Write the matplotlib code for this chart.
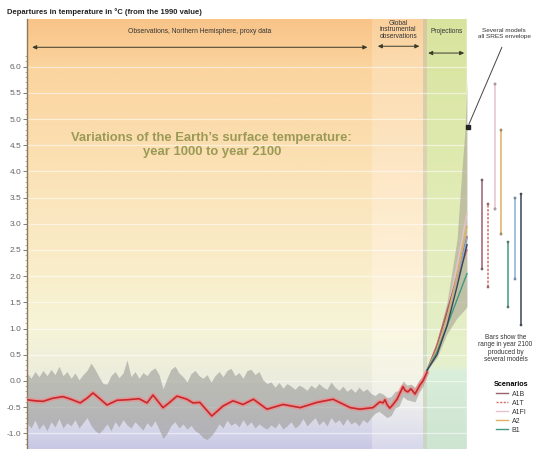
import numpy as np
import matplotlib
matplotlib.use('Agg')
import matplotlib.pyplot as plt
from matplotlib.colors import LinearSegmentedColormap
from matplotlib.lines import Line2D

plt.rcParams['font.family'] = ['Liberation Sans', 'DejaVu Sans']

# ---------------- data ----------------
# proxy / instrumental uncertainty band (10-year steps)
band_years = list(range(1000, 2001, 10))
band_upper = [0.15, 0.05, 0.18, 0.08, 0.20, 0.10, 0.22, 0.12, 0.28, 0.10,
              0.18, 0.05, 0.15, 0.02, 0.12, 0.20, 0.34, 0.22, 0.08, -0.05,
              -0.06, 0.10, 0.18, 0.06, 0.15, 0.40, 0.08, 0.18, 0.05, 0.16,
              0.10, 0.20, 0.25, 0.12, -0.15, 0.05, 0.22, 0.28, 0.15, 0.08,
              -0.02, 0.14, 0.20, 0.10, 0.05, 0.12, -0.02, 0.10, 0.18, 0.08,
              0.20, 0.24, 0.10, 0.16, 0.05, 0.20, 0.22, 0.12, 0.18, 0.02,
              -0.05, -0.02, -0.12, -0.03, -0.14, -0.05, -0.10, -0.16, -0.08, -0.12,
              -0.18, -0.08, -0.14, -0.05, -0.12, -0.16, -0.02, -0.12, -0.18, -0.10,
              -0.20, -0.14, -0.22, -0.12, -0.20, -0.15, -0.24, -0.28, -0.22, -0.25,
              -0.32, -0.30, -0.20, -0.18, 0.00, -0.08, -0.06, -0.12, 0.02, 0.10,
              0.22]
band_lower = [-0.80, -0.90, -0.75, -0.92, -0.82, -0.95, -0.78, -0.88, -0.72, -0.90,
              -0.80, -0.86, -0.74, -0.90, -0.80, -0.70, -0.85, -0.95, -1.00, -0.92,
              -0.82, -0.95, -0.78, -0.88, -0.74, -0.84, -0.90, -0.78, -0.86, -0.94,
              -0.80, -0.88, -0.76, -0.92, -1.10, -1.00, -0.85, -0.78, -0.90, -0.82,
              -0.92, -0.85, -0.95, -1.00, -1.08, -1.12, -1.05, -0.95, -0.82, -0.90,
              -0.75, -0.85, -0.80, -0.88, -0.74, -0.86, -0.78, -0.90, -0.82, -0.88,
              -0.92, -0.84, -0.90, -0.80, -0.92, -0.86, -0.78, -0.90, -0.84, -0.72,
              -0.86, -0.78, -0.70, -0.84, -0.76, -0.86, -0.70, -0.80, -0.74, -0.85,
              -0.72, -0.82, -0.78, -0.86, -0.74, -0.80, -0.70, -0.62, -0.58, -0.64,
              -0.70, -0.66, -0.52, -0.48, -0.30, -0.36, -0.38, -0.40, -0.22, -0.10,
              0.12]

# smoothed observed temperature (red line)
obs_years = [1000, 1020, 1040, 1065, 1090, 1110, 1133, 1150, 1165, 1185,
             1200, 1225, 1250, 1265, 1280, 1300, 1315, 1340, 1355, 1375,
             1400, 1415, 1432, 1462, 1490, 1515, 1540, 1566, 1600, 1640,
             1683, 1725, 1765, 1808, 1832, 1865, 1882, 1890, 1895, 1900,
             1907, 1915, 1925, 1940, 1945, 1952, 1960, 1970, 1982, 1990, 2000]
obs_values = [-0.36, -0.38, -0.39, -0.33, -0.30, -0.35, -0.42, -0.33, -0.23, -0.36,
              -0.46, -0.37, -0.36, -0.35, -0.34, -0.42, -0.27, -0.51, -0.42, -0.29,
              -0.35, -0.42, -0.41, -0.67, -0.48, -0.38, -0.45, -0.35, -0.54, -0.45,
              -0.51, -0.41, -0.35, -0.51, -0.54, -0.51, -0.40, -0.42, -0.36, -0.45,
              -0.52, -0.45, -0.35, -0.11, -0.18, -0.21, -0.15, -0.25, -0.08, 0.00, 0.17]

# projections
proj_years = [2000, 2025, 2050, 2075, 2100]
env_years = [2000, 2025, 2050, 2075, 2087, 2095, 2100]
env_upper = [0.2, 0.75, 1.5, 2.7, 4.0, 4.8, 5.75]
env_lower = [0.2, 0.45, 0.9, 1.2, 1.3, 1.37, 1.42]

scenarios = ['A1B', 'A1T', 'A1FI', 'A2', 'B1', 'B2', 'IS92a']
scen_colors = ['#9a6070', '#d4706a', '#e6c2cc', '#e0b060', '#3f9a80', '#86b0dc', '#3a4458']
scen_paths = {
    'A1B':   [0.2, 0.65, 1.3, 2.0, 2.75],
    'A1T':   [0.2, 0.70, 1.35, 1.95, 2.5],
    'A1FI':  [0.2, 0.60, 1.3, 2.2, 3.2],
    'A2':    [0.2, 0.60, 1.2, 2.0, 2.95],
    'B1':    [0.2, 0.55, 1.05, 1.55, 2.05],
    'B2':    [0.2, 0.60, 1.2, 1.95, 2.72],
    'IS92a': [0.2, 0.50, 1.05, 1.8, 2.6],
}
# ranges in year 2100 (bars)
bar_low = [2.14, 1.80, 3.28, 2.81, 1.42, 1.95, 1.07]
bar_high = [3.84, 3.38, 5.67, 4.79, 2.66, 3.49, 3.57]
bar_pos = [2137, 2152, 2170, 2185, 2202, 2220, 2235]
legend_shown = ['A1B', 'A1T', 'A1FI', 'A2', 'B1']

y_ticks = [-1.0, -0.5, 0.0, 0.5, 1.0, 1.5, 2.0, 2.5, 3.0, 3.5, 4.0, 4.5, 5.0, 5.5, 6.0]

# ---------------- figure ----------------
W, H = 533, 449
fig = plt.figure(figsize=(W / 100, H / 100), dpi=100)
ax = fig.add_axes([27 / W, 0, 506 / W, 430 / H])
YLO, YHI = -1.30, 6.91
XLO, XHI = 1000, 2265


def vgrad(x0, x1, stops, z=0):
    cmap = LinearSegmentedColormap.from_list(
        'g', [((v - YLO) / (YHI - YLO), c) for v, c in stops])
    grad = np.linspace(0, 1, 256).reshape(-1, 1)
    ax.imshow(grad, extent=[x0, x1, YLO, YHI], origin='lower', cmap=cmap,
              aspect='auto', zorder=z, interpolation='bilinear')


vgrad(1000, 1862, [(YLO, '#c8c8e4'), (-1.0, '#d3d3ea'), (-0.5, '#e1e1e3'),
                   (0.0, '#ebecdd'), (1.0, '#f6f4d8'), (2.0, '#f9eecb'),
                   (4.0, '#fbe2b6'), (6.0, '#fbd49e'), (YHI, '#f8c489')])
vgrad(1862, 1990, [(YLO, '#d8d8ec'), (-1.0, '#e0e0ee'), (-0.5, '#ececec'),
                   (0.0, '#f3f3e6'), (1.0, '#fbf7e2'), (2.0, '#fdf1d8'),
                   (4.0, '#fde7c6'), (6.0, '#fcdcb0'), (YHI, '#fad09c')])
vgrad(1990, 2000, [(YLO, '#c9d6c4'), (0.2, '#d3dcc8'), (3.0, '#dcd8bc'),
                   (YHI, '#d8c8a0')])
vgrad(2000, 2100, [(YLO, '#cde4d0'), (0.15, '#d9eedb'), (0.3, '#e6f0cc'),
                   (3.0, '#e2ecb8'), (YHI, '#d8e49e')])
ax.add_patch(plt.Rectangle((2100, YLO), XHI - 2100, YHI - YLO, color='white', zorder=0.5))

# white grid lines
ax.hlines(y_ticks, 1000, 2100, colors='white', lw=0.9, alpha=0.55, zorder=1)

# uncertainty band
ax.fill_between(band_years, band_lower, band_upper, color='#9c9c98', alpha=0.6,
                lw=0, zorder=2)

# red observed line with halo
ax.plot(obs_years, obs_values, color='#f08a8a', lw=3.4, alpha=0.7, zorder=3,
        solid_capstyle='round')
ax.plot(obs_years, obs_values, color='#c8282c', lw=1.2, zorder=4)

# projection envelope
ax.fill_between(env_years, env_lower, env_upper, color='#a8a492', alpha=0.6,
                lw=0, zorder=2)
order = ['A1FI', 'A1T', 'A1B', 'B2', 'A2', 'B1', 'IS92a']
for name in order:
    c = scen_colors[scenarios.index(name)]
    ax.plot(proj_years, scen_paths[name], color=c, lw=1.0, zorder=5)

# range bars
for i, name in enumerate(scenarios):
    ls = (0, (1.6, 1.0)) if name == 'A1T' else '-'
    ax.vlines(bar_pos[i], bar_low[i], bar_high[i], colors=scen_colors[i], lw=1.1,
              linestyles=ls, zorder=5)
    ax.plot([bar_pos[i], bar_pos[i]], [bar_low[i], bar_high[i]], ls='none',
            marker='s', ms=1.6, color=scen_colors[i], mec='#555555', mew=0.3, zorder=6)

# axes styling
ax.set_xlim(XLO, XHI)
ax.set_ylim(YLO, YHI)
for s in ['top', 'right', 'bottom']:
    ax.spines[s].set_visible(False)
ax.spines['left'].set_color('#8a7a5a')
ax.spines['left'].set_linewidth(1.0)
ax.set_xticks([])
ax.set_yticks(y_ticks)
ax.set_yticklabels([f'{v:.1f}' for v in y_ticks])
ax.set_yticks(np.arange(-1.2, 6.25, 0.1), minor=True)
ax.tick_params(axis='y', which='major', length=3, width=0.6, color='#666666',
               labelsize=6.0, labelcolor='#666666', pad=1)
ax.tick_params(axis='y', which='minor', length=1.8, width=0.4, color='#777777')

# header texts & arrows
fig.text(7 / W, 1 - 12 / H, 'Departures in temperature in °C (from the 1990 value)',
         fontsize=5.5, fontweight='bold', color='#222222', va='center', ha='left')
ax.text(1432, 6.68, 'Observations, Northern Hemisphere, proxy data', fontsize=4.9,
        ha='center', va='center', color='#333333', zorder=7)
ax.text(1928, 6.70, 'Global\ninstrumental\nobservations', fontsize=4.8,
        ha='center', va='center', color='#333333', linespacing=0.9, zorder=7)
ax.text(2050, 6.68, 'Projections', fontsize=4.7, ha='center', va='center',
        color='#333333', zorder=7)
arrow_kw = dict(arrowstyle='<|-|>,head_length=0.25,head_width=0.12', color='#3a3a2a', lw=0.7)
ax.annotate('', xy=(1006, 6.37), xytext=(1858, 6.37), arrowprops=arrow_kw, zorder=7)
ax.annotate('', xy=(1870, 6.39), xytext=(1988, 6.39), arrowprops=arrow_kw, zorder=7)
ax.annotate('', xy=(1996, 6.26), xytext=(2100, 6.26), arrowprops=arrow_kw, zorder=7)

ax.text(1462, 4.50, 'Variations of the Earth\u2019s surface temperature:\nyear 1000 to year 2100',
        fontsize=9.4, fontweight='bold', color='#9a9a56', ha='center', va='center',
        linespacing=1.2, zorder=7)

ax.text(2193, 6.63, 'Several models\nall SRES envelope', fontsize=4.6, ha='center',
        va='center', color='#333333', linespacing=1.25, zorder=7, clip_on=False)
ax.annotate('', xy=(2102, 4.85), xytext=(2190, 6.42),
            arrowprops=dict(arrowstyle='-', color='#444444', lw=0.7), zorder=7)
ax.plot([2102], [4.85], marker='s', ms=2.2, color='#222222', zorder=8)

ax.text(2196, 0.62, 'Bars show the\nrange in year 2100\nproduced by\nseveral models',
        fontsize=4.7, ha='center', va='center', color='#333333', linespacing=1.05,
        zorder=7, clip_on=False)

handles = []
for name in legend_shown:
    i = scenarios.index(name)
    ls = (0, (1.6, 1.0)) if name == 'A1T' else '-'
    handles.append(Line2D([], [], color=scen_colors[i], lw=1.0, ls=ls))
leg = ax.legend(handles, legend_shown, loc='upper center', bbox_to_anchor=(2210, -0.01),
                bbox_transform=ax.transData, frameon=False, fontsize=5.0,
                title='Scenarios', title_fontproperties={'weight': 'bold', 'size': 5.2},
                handlelength=1.8, handletextpad=0.5, labelspacing=0.3,
                borderaxespad=0, borderpad=0)
leg._legend_box.align = 'center'
for t in leg.get_texts():
    t.set_color('#333333')

fig.savefig('out.png', dpi=100)
